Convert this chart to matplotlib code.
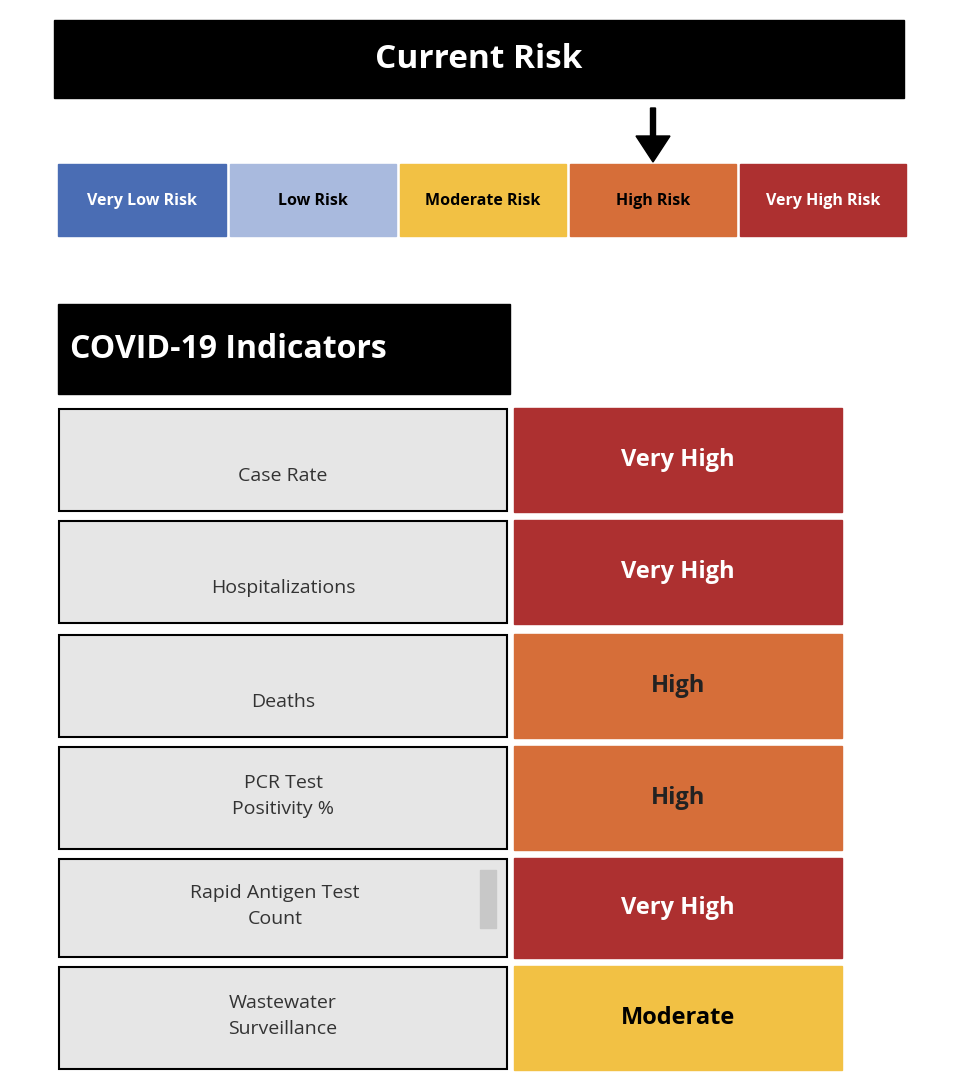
import matplotlib
matplotlib.use("Agg")
import matplotlib.pyplot as plt
from matplotlib.patches import Rectangle, FancyArrow

risk_levels = ["Very Low Risk", "Low Risk", "Moderate Risk", "High Risk", "Very High Risk"]
risk_colors = ["#4a6db4", "#a9bade", "#f2c144", "#d66e39", "#ad3030"]
risk_text_colors = ["white", "black", "black", "black", "white"]
current_risk = "High Risk"

indicators = ["Case Rate", "Hospitalizations", "Deaths", "PCR Test\nPositivity %",
              "Rapid Antigen Test\nCount", "Wastewater\nSurveillance"]
indicator_levels = ["Very High", "Very High", "High", "High", "Very High", "Moderate"]
level_colors = {"Very High": "#ad3030", "High": "#d66e39", "Moderate": "#f2c144"}
level_text = {"Very High": "white", "High": "#222222", "Moderate": "black"}

plt.rcParams['font.family'] = ['Open Sans', 'DejaVu Sans']
fig = plt.figure(figsize=(9.6, 10.9), dpi=100)
ax = fig.add_axes([0, 0, 1, 1])
ax.set_xlim(0, 960); ax.set_ylim(1090, 0); ax.axis("off")

ax.add_patch(Rectangle((54, 20), 850, 78, color="black"))
ax.text(479, 60, "Current Risk", color="white", fontsize=24, fontweight="bold", ha="center", va="center")

xs = [58, 230, 400, 570, 740]
ws = [168, 166, 166, 166, 166]
for x, w, lab, c, tc in zip(xs, ws, risk_levels, risk_colors, risk_text_colors):
    ax.add_patch(Rectangle((x, 164), w, 72, color=c))
    ax.text(x + w / 2, 201, lab, color=tc, fontsize=11.5, fontweight="bold", ha="center", va="center")
    if lab == current_risk:
        cx = x + w / 2
        ax.add_patch(FancyArrow(cx, 108, 0, 54, width=5, head_width=34, head_length=26,
                                length_includes_head=True, color="black"))

ax.add_patch(Rectangle((58, 304), 452, 90, color="black"))
ax.text(70, 349, "COVID-19 Indicators", color="white", fontsize=23, fontweight="bold", ha="left", va="center")

row_tops = [408, 520, 634, 746, 858, 966]
row_h = [104, 104, 104, 104, 100, 104]
for top, h, name, lev in zip(row_tops, row_h, indicators, indicator_levels):
    ax.add_patch(Rectangle((59, top + 1), 448, h - 2, facecolor="#e6e6e6", edgecolor="black", linewidth=1.5))
    if "\n" in name:
        ty = top + h / 2 - 2
        xc = 275 if name.startswith("Rapid") else 283
    else:
        ty = top + 68
        xc = 283
    ax.text(xc, ty, name, color="#333333", fontsize=14, ha="center", va="center", linespacing=1.6)
    ax.add_patch(Rectangle((514, top), 328, h, color=level_colors[lev]))
    ax.text(678, top + h / 2, lev, color=level_text[lev], fontsize=17, fontweight="bold", ha="center", va="center")

ax.add_patch(Rectangle((480, 870), 16, 58, color="#c8c8c8"))

fig.savefig("out.png", dpi=100, facecolor="white")
